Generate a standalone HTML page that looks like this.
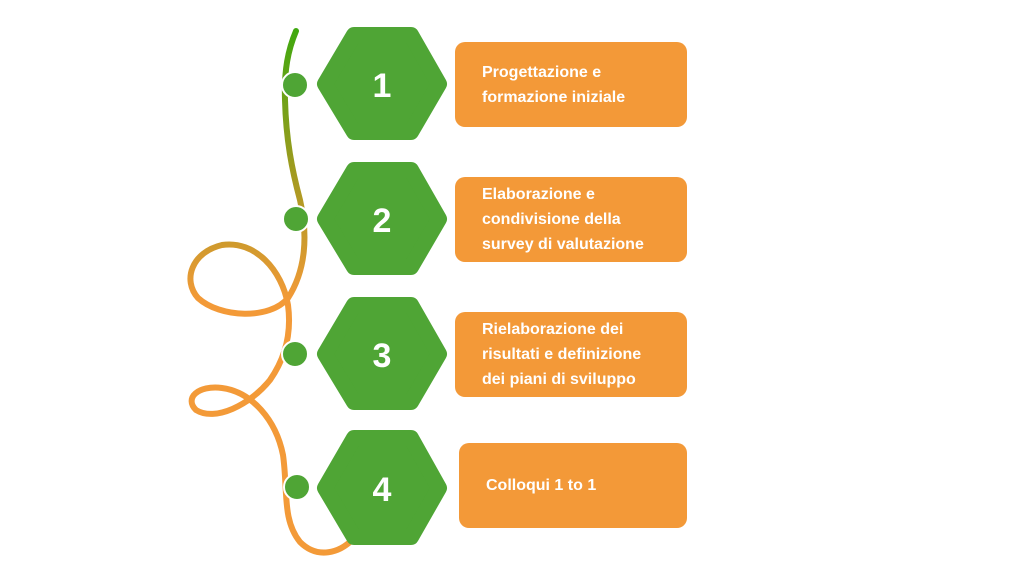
<!DOCTYPE html>
<html><head><style>
body{margin:0;width:1024px;height:576px;background:#fff;position:relative;overflow:hidden;font-family:"Liberation Sans",sans-serif}
.b{position:absolute;background:#f39938;border-radius:10px;color:#fff;font-size:16px;font-weight:bold;line-height:25px;box-sizing:border-box;padding-left:27px;display:flex;align-items:center}
</style></head><body>
<svg width="1024" height="576" style="position:absolute;left:0;top:0">
<defs>
<linearGradient id="g" x1="0" y1="30" x2="0" y2="300" gradientUnits="userSpaceOnUse">
<stop offset="0" stop-color="#3fa80f"/><stop offset="0.55" stop-color="#a59a20"/><stop offset="1" stop-color="#f39a38"/></linearGradient>
</defs>
<path d="M296 31 C288 50 284 70 285 100 C286 140 292 170 300 200 C308 235 306 270 288 298 C270 320 220 318 198 298 C182 280 192 252 222 245 C255 240 282 270 288 305 C292 335 284 360 270 380 C250 405 215 422 196 410 C184 398 198 385 222 388 C252 392 276 420 283 455 C288 490 282 520 300 542 C318 560 340 552 352 540" fill="none" stroke="url(#g)" stroke-width="6" stroke-linecap="round"/>
<g fill="#4fa535" stroke="#fff" stroke-width="2">
<circle cx="295" cy="85" r="13"/><circle cx="296" cy="219" r="13"/><circle cx="295" cy="354" r="13"/><circle cx="297" cy="487" r="13"/>
</g>
<g fill="#4fa535" stroke="#4fa535" stroke-width="16" stroke-linejoin="round">
<polygon points="325,84 354,35 411,35 439,84 411,132 354,132"/>
<polygon points="325,219 354,170 411,170 439,219 411,267 354,267"/>
<polygon points="325,354 354,305 411,305 439,354 411,402 354,402"/>
<polygon points="325,488 354,438 411,438 439,488 411,537 354,537"/>
</g>
<g fill="#fff" font-family="Liberation Sans,sans-serif" font-size="34" font-weight="bold" text-anchor="middle">
<text x="382" y="97">1</text><text x="382" y="232">2</text><text x="382" y="367">3</text><text x="382" y="501">4</text>
</g>
</svg>
<div class="b" style="left:455px;top:42px;width:232px;height:85px">Progettazione e<br>formazione iniziale</div>
<div class="b" style="left:455px;top:177px;width:232px;height:85px">Elaborazione e<br>condivisione della<br>survey di valutazione</div>
<div class="b" style="left:455px;top:312px;width:232px;height:85px">Rielaborazione dei<br>risultati e definizione<br>dei piani di sviluppo</div>
<div class="b" style="left:459px;top:443px;width:228px;height:85px">Colloqui 1 to 1</div>
</body></html>
